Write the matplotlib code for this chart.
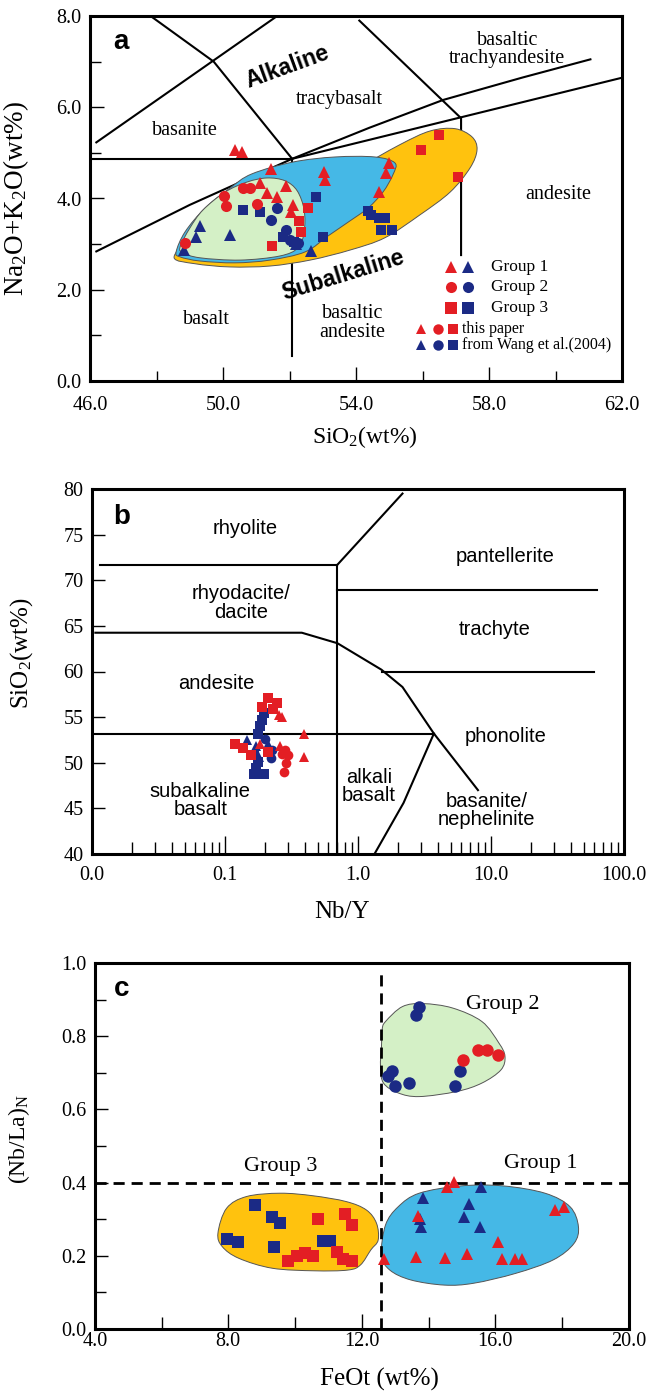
import numpy as np
import matplotlib
matplotlib.use("Agg")
import matplotlib.pyplot as plt
from matplotlib.path import Path
from matplotlib.patches import PathPatch
from matplotlib.ticker import FixedLocator, NullFormatter

plt.rcParams["font.family"] = ["Liberation Serif", "DejaVu Serif"]
plt.rcParams["mathtext.fontset"] = "custom"
plt.rcParams["mathtext.rm"] = "Liberation Serif"
plt.rcParams["mathtext.it"] = "Liberation Serif:italic"

RED = "#e31e24"
BLUE = "#1b2a85"
GREEN_FILL = "#d4f0c6"
BLUE_FILL = "#45b8e6"
YELLOW_FILL = "#ffc20e"
SANS = "Liberation Sans"

# ---------------- panel a: TAS (SiO2 vs Na2O+K2O) ----------------
a_r_tri_x = [50.35, 50.58, 51.45, 51.10, 51.33, 51.63, 51.90, 52.10, 52.05, 53.03, 53.08, 55.00, 54.90, 54.70]
a_r_tri_y = [5.07, 5.01, 4.65, 4.35, 4.13, 4.04, 4.28, 3.85, 3.70, 4.58, 4.40, 4.77, 4.56, 4.15]
a_b_tri_x = [49.30, 49.20, 48.82, 50.22, 52.65, 52.20]
a_b_tri_y = [3.40, 3.16, 2.87, 3.20, 2.84, 3.00]
a_r_cir_x = [50.03, 50.08, 50.60, 50.80, 51.03, 48.87]
a_r_cir_y = [4.06, 3.84, 4.23, 4.23, 3.88, 3.02]
a_b_cir_x = [51.62, 51.45, 51.88, 52.00, 52.25]
a_b_cir_y = [3.79, 3.53, 3.30, 3.09, 3.02]
a_r_sq_x = [56.50, 55.95, 57.08, 52.57, 52.30, 52.35, 51.47]
a_r_sq_y = [5.40, 5.07, 4.47, 3.80, 3.50, 3.27, 2.95]
a_b_sq_x = [50.60, 51.12, 52.80, 53.02, 54.35, 54.45, 54.70, 54.87, 54.75, 55.07, 51.80, 52.15]
a_b_sq_y = [3.75, 3.70, 4.04, 3.15, 3.73, 3.64, 3.57, 3.57, 3.32, 3.32, 3.15, 3.05]

# classification boundaries (SiO2, alkali)
a_lines = [
    ([46.19, 51.59], [5.23, 7.98]),
    ([47.86, 49.72, 52.08], [7.98, 7.00, 4.87]),
    ([46.0, 52.08], [4.87, 4.87]),
    ([52.08, 52.08], [4.87, 0.55]),
    ([54.10, 57.16, 57.16], [7.90, 5.76, 2.76]),
    ([46.19, 49.0, 52.08, 54.4, 56.62, 59.0, 61.05], [2.84, 3.86, 4.87, 5.55, 6.16, 6.65, 7.05]),
    ([52.08, 61.96], [4.87, 6.64]),
]

# field outlines
a_yellow_x = [48.53, 49.01, 50.21, 52.02, 53.82, 55.32, 56.23, 56.98, 57.49, 57.64, 57.43, 56.83, 55.92, 54.87, 53.82, 52.62, 51.41, 50.21, 49.16]
a_yellow_y = [2.70, 3.09, 3.49, 3.97, 4.58, 5.18, 5.48, 5.53, 5.35, 5.07, 4.67, 4.14, 3.64, 3.14, 2.87, 2.65, 2.52, 2.50, 2.57]
a_blue_x = [48.59, 48.86, 49.46, 50.21, 50.87, 52.11, 53.37, 54.57, 55.17, 55.11, 54.81, 54.36, 53.82, 53.16, 52.47, 51.41, 50.36, 49.31, 48.71]
a_blue_y = [2.83, 3.27, 3.79, 4.23, 4.54, 4.80, 4.91, 4.91, 4.78, 4.52, 4.14, 3.79, 3.51, 3.18, 2.83, 2.65, 2.59, 2.63, 2.72]
a_green_x = [48.71, 49.01, 49.40, 50.06, 50.72, 51.32, 51.86, 52.23, 52.44, 52.44, 52.26, 51.71, 50.51, 49.31, 48.80]
a_green_y = [2.94, 3.36, 3.75, 4.14, 4.36, 4.45, 4.39, 4.17, 3.75, 3.27, 2.92, 2.74, 2.65, 2.70, 2.81]

# ---------------- panel b: Nb/Y vs SiO2 ----------------
b_r_tri_x = [0.254, 0.27, 0.39, 0.39, 0.183, 0.26]
b_r_tri_y = [55.2, 55.0, 53.2, 50.6, 52.1, 51.8]
b_r_cir_x = [0.283, 0.30, 0.29, 0.28, 0.27]
b_r_cir_y = [51.4, 50.8, 50.0, 49.0, 51.0]
b_r_sq_x = [0.19, 0.212, 0.245, 0.119, 0.137, 0.158, 0.21, 0.23]
b_r_sq_y = [56.1, 57.1, 56.5, 52.1, 51.6, 50.8, 51.2, 55.9]
b_b_sq_x = [0.197, 0.19, 0.183, 0.177, 0.165, 0.177, 0.171, 0.197, 0.165]
b_b_sq_y = [55.4, 54.7, 54.0, 53.2, 50.8, 50.1, 49.4, 48.8, 48.8]
b_b_tri_x = [0.147, 0.171, 0.212, 0.18]
b_b_tri_y = [52.5, 51.8, 52.1, 50.6]
b_b_cir_x = [0.227, 0.20, 0.22]
b_b_cir_y = [51.4, 52.6, 50.5]

b_lines = [
    ([0.70, 2.16], [71.7, 79.5]),
    ([0.0115, 0.70], [71.7, 71.7]),
    ([0.70, 0.70], [71.7, 40.0]),
    ([0.70, 63.0], [68.9, 68.9]),
    ([0.0106, 0.378, 0.70, 1.50, 2.16, 3.72, 7.98], [64.25, 64.25, 63.1, 60.2, 58.3, 53.2, 47.0]),
    ([1.52, 60.0], [60.0, 60.0]),
    ([0.0100, 3.72], [53.15, 53.15]),
    ([3.72, 2.2, 1.33], [53.2, 45.6, 40.0]),
]
b_labels = [
    (0.142, 75.7, "rhyolite"), (12.8, 72.6, "pantellerite"),
    (0.132, 67.5, "rhyodacite/\ndacite"), (10.7, 64.6, "trachyte"),
    (0.0855, 58.7, "andesite"), (12.8, 52.9, "phonolite"),
    (0.0653, 45.9, "subalkaline\nbasalt"), (1.21, 47.4, "alkali\nbasalt"),
    (9.25, 44.8, "basanite/\nnephelinite"),
]

# ---------------- panel c: FeOt vs (Nb/La)N ----------------
c_r_tri_x = [12.66, 13.62, 13.68, 14.50, 14.55, 14.75, 15.14, 16.08, 16.20, 16.60, 16.80, 17.80, 18.05]
c_r_tri_y = [0.190, 0.197, 0.310, 0.193, 0.389, 0.403, 0.206, 0.237, 0.190, 0.190, 0.190, 0.325, 0.334]
c_b_tri_x = [13.84, 13.74, 13.76, 15.05, 15.22, 15.58, 15.53]
c_b_tri_y = [0.357, 0.300, 0.279, 0.306, 0.342, 0.387, 0.279]
c_r_cir_x = [15.04, 15.48, 15.75, 16.08]
c_r_cir_y = [0.736, 0.761, 0.761, 0.749]
c_b_cir_x = [13.72, 13.63, 12.90, 12.78, 13.00, 13.40, 14.79, 14.95]
c_b_cir_y = [0.881, 0.859, 0.706, 0.690, 0.663, 0.672, 0.663, 0.704]
c_r_sq_x = [10.70, 11.50, 11.70, 9.80, 10.05, 10.30, 10.55, 11.25, 11.45, 11.70]
c_r_sq_y = [0.300, 0.313, 0.285, 0.185, 0.200, 0.207, 0.200, 0.210, 0.190, 0.185]
c_b_sq_x = [8.80, 9.30, 9.55, 7.95, 8.30, 9.37, 10.83, 11.06]
c_b_sq_y = [0.340, 0.305, 0.289, 0.245, 0.239, 0.225, 0.240, 0.240]

c_green_x = [12.71, 13.22, 13.84, 14.72, 15.60, 16.11, 16.29, 16.17, 15.60, 14.85, 13.72, 13.09, 12.65, 12.56, 12.59, 12.61]
c_green_y = [0.840, 0.881, 0.889, 0.877, 0.840, 0.781, 0.745, 0.708, 0.672, 0.649, 0.635, 0.645, 0.672, 0.717, 0.772, 0.818]
c_blue_x = [13.09, 13.72, 14.97, 16.23, 17.49, 18.24, 18.49, 18.36, 17.74, 16.61, 15.35, 14.47, 13.47, 12.84, 12.59, 12.71]
c_blue_y = [0.334, 0.371, 0.391, 0.391, 0.371, 0.334, 0.280, 0.234, 0.189, 0.152, 0.125, 0.120, 0.134, 0.161, 0.202, 0.284]
c_yellow_x = [7.69, 7.95, 8.55, 9.55, 10.54, 11.54, 12.14, 12.44, 12.49, 12.27, 11.96, 11.58, 10.58, 9.32, 8.32, 7.82]
c_yellow_y = [0.262, 0.330, 0.362, 0.371, 0.364, 0.348, 0.325, 0.289, 0.243, 0.216, 0.175, 0.161, 0.159, 0.166, 0.193, 0.225]


def smooth_outline(xs, ys):
    # closed Catmull-Rom outline turned into cubic bezier segments
    pts = np.column_stack([xs, ys])
    n = len(pts)
    verts = [pts[0]]
    codes = [Path.MOVETO]
    for i in range(n):
        p0, p1, p2, p3 = pts[i - 1], pts[i], pts[(i + 1) % n], pts[(i + 2) % n]
        verts += [p1 + (p2 - p0) / 6.0, p2 - (p3 - p1) / 6.0, p2]
        codes += [Path.CURVE4] * 3
    verts.append(pts[0])
    codes.append(Path.CLOSEPOLY)
    return Path(verts, codes)


def add_field(ax, xs, ys, color):
    ax.add_patch(PathPatch(smooth_outline(xs, ys), facecolor=color,
                           edgecolor="#555555", lw=0.7, zorder=2))


def pts(ax, x, y, marker, color, ms):
    ax.plot(x, y, ls="none", marker=marker, color=color, ms=ms, mew=0, zorder=4)


def style_axes(ax):
    for s in ax.spines.values():
        s.set_linewidth(2.2)
    ax.tick_params(which="both", direction="in", labelsize=14.5, width=1.0)


fig = plt.figure(figsize=(6.54, 13.96), dpi=100)

# ---------------- panel a ----------------
ax = fig.add_axes([90 / 654, 1 - 381 / 1396, 532 / 654, 365 / 1396])
style_axes(ax)
ax.set_xlim(46, 62)
ax.set_ylim(0, 8)
ax.xaxis.set_major_locator(FixedLocator([46, 50, 54, 58, 62]))
ax.xaxis.set_minor_locator(FixedLocator([48, 52, 56, 60]))
ax.yaxis.set_major_locator(FixedLocator([0, 2, 4, 6, 8]))
ax.yaxis.set_minor_locator(FixedLocator([1, 3, 5, 7]))
ax.xaxis.set_major_formatter(lambda v, p: f"{v:.1f}")
ax.yaxis.set_major_formatter(lambda v, p: f"{v:.1f}")
ax.tick_params(axis="x", which="major", length=10, pad=11)
ax.tick_params(axis="x", which="minor", length=7)
ax.tick_params(axis="y", which="major", length=10, pad=6)
ax.tick_params(axis="y", which="minor", length=8)

for lx, ly in a_lines:
    ax.plot(lx, ly, color="black", lw=1.5, zorder=1)
add_field(ax, a_yellow_x, a_yellow_y, YELLOW_FILL)
add_field(ax, a_blue_x, a_blue_y, BLUE_FILL)
add_field(ax, a_green_x, a_green_y, GREEN_FILL)

pts(ax, a_b_sq_x, a_b_sq_y, "s", BLUE, 7.5)
pts(ax, a_b_cir_x, a_b_cir_y, "o", BLUE, 8)
pts(ax, a_b_tri_x, a_b_tri_y, "^", BLUE, 8.5)
pts(ax, a_r_sq_x, a_r_sq_y, "s", RED, 7.5)
pts(ax, a_r_cir_x, a_r_cir_y, "o", RED, 8)
pts(ax, a_r_tri_x, a_r_tri_y, "^", RED, 8.5)

ax.text(0.059, 0.93, "a", transform=ax.transAxes, fontsize=20, fontweight="bold",
        family=SANS, ha="center", va="center")
ax.text(51.93, 6.89, "Alkaline", fontsize=16.5, fontweight="bold", family=SANS,
        rotation=20, ha="center", va="center")
ax.text(53.6, 2.32, "Subalkaline", fontsize=16.5, fontweight="bold", family=SANS,
        rotation=17, ha="center", va="center", zorder=5)
for tx, ty, s in [(53.5, 6.16, "tracybasalt"), (58.55, 7.26, "basaltic\ntrachyandesite"),
                  (48.84, 5.50, "basanite"), (60.07, 4.08, "andesite"),
                  (49.5, 1.34, "basalt"), (53.9, 1.27, "basaltic\nandesite")]:
    ax.text(tx, ty, s, fontsize=14.5, ha="center", va="center", linespacing=0.95)

# legend rows
leg_rows = [(0.313, "^", "Group 1"), (0.258, "o", "Group 2"), (0.199, "s", "Group 3")]
for yy, mk, lab in leg_rows:
    ax.plot([0.679], [yy], marker=mk, color=RED, ms=8, mew=0, transform=ax.transAxes, ls="none")
    ax.plot([0.711], [yy], marker=mk, color=BLUE, ms=8, mew=0, transform=ax.transAxes, ls="none")
    ax.text(0.753, yy, lab, transform=ax.transAxes, fontsize=12.5, va="center")
for yy, col, lab in [(0.142, RED, "this paper"), (0.099, BLUE, "from Wang et al.(2004)")]:
    for xx, mk in zip([0.623, 0.654, 0.682], ["^", "o", "s"]):
        ax.plot([xx], [yy], marker=mk, color=col, ms=7.5, mew=0, transform=ax.transAxes, ls="none")
    ax.text(0.700, yy, lab, transform=ax.transAxes, fontsize=11.5, va="center")

ax.set_xlabel("SiO$_2$(wt%)", fontsize=17)
ax.set_ylabel("Na$_2$O+K$_2$O(wt%)", fontsize=19.5)
ax.xaxis.set_label_coords(0.517, -0.118)
ax.yaxis.set_label_coords(-0.11, 0.5)

# ---------------- panel b ----------------
bx = fig.add_axes([92 / 654, 1 - 854 / 1396, 532 / 654, 365 / 1396])
style_axes(bx)
bx.set_xscale("log")
bx.set_xlim(0.01, 100)
bx.set_ylim(40, 80)
bx.xaxis.set_major_locator(FixedLocator([0.01, 0.1, 1, 10, 100]))
bx.xaxis.set_minor_locator(FixedLocator([m * 10.0 ** e for e in range(-2, 2) for m in range(2, 10)]))
bx.xaxis.set_minor_formatter(NullFormatter())
bx.xaxis.set_major_formatter(lambda v, p: f"{v:.1f}")
bx.yaxis.set_major_locator(FixedLocator([40, 45, 50, 55, 60, 65, 70, 75, 80]))
bx.tick_params(axis="x", which="major", length=13, pad=9)
bx.tick_params(axis="x", which="minor", length=9)
bx.tick_params(axis="y", which="major", length=9, pad=6)

for lx, ly in b_lines:
    bx.plot(lx, ly, color="black", lw=1.5, zorder=1)
for tx, ty, s in b_labels:
    bx.text(tx, ty, s, family=SANS, fontsize=14.5, ha="center", va="center", linespacing=0.95)
bx.text(0.056, 0.924, "b", transform=bx.transAxes, fontsize=20, fontweight="bold",
        family=SANS, ha="center", va="center")

pts(bx, b_b_sq_x, b_b_sq_y, "s", BLUE, 6.5)
pts(bx, b_b_cir_x, b_b_cir_y, "o", BLUE, 7)
pts(bx, b_b_tri_x, b_b_tri_y, "^", BLUE, 7.5)
pts(bx, b_r_sq_x, b_r_sq_y, "s", RED, 6.5)
pts(bx, b_r_cir_x, b_r_cir_y, "o", RED, 7)
pts(bx, b_r_tri_x, b_r_tri_y, "^", RED, 7.5)

bx.set_xlabel("Nb/Y", fontsize=18)
bx.set_ylabel("SiO$_2$(wt%)", fontsize=18)
bx.xaxis.set_label_coords(0.47, -0.13)
bx.yaxis.set_label_coords(-0.108, 0.55)

# ---------------- panel c ----------------
cx = fig.add_axes([94.8 / 654, 1 - 1329 / 1396, 534 / 654, 366 / 1396])
style_axes(cx)
cx.set_xlim(4, 20)
cx.set_ylim(0, 1)
cx.xaxis.set_major_locator(FixedLocator([4, 8, 12, 16, 20]))
cx.xaxis.set_minor_locator(FixedLocator([6, 10, 14, 18]))
cx.yaxis.set_major_locator(FixedLocator([0, 0.2, 0.4, 0.6, 0.8, 1.0]))
cx.yaxis.set_minor_locator(FixedLocator([0.1, 0.3, 0.5, 0.7, 0.9]))
cx.xaxis.set_major_formatter(lambda v, p: f"{v:.1f}")
cx.yaxis.set_major_formatter(lambda v, p: f"{v:.1f}")
cx.tick_params(axis="x", which="major", length=11, pad=2)
cx.tick_params(axis="x", which="minor", length=9)
cx.tick_params(axis="y", which="major", length=9, pad=6)
cx.tick_params(axis="y", which="minor", length=8)

add_field(cx, c_green_x, c_green_y, GREEN_FILL)
add_field(cx, c_blue_x, c_blue_y, BLUE_FILL)
add_field(cx, c_yellow_x, c_yellow_y, YELLOW_FILL)
cx.axhline(0.4, color="black", lw=2, ls=(0, (4, 2.5)), zorder=3)
cx.plot([12.59, 12.59], [0, 0.98], color="black", lw=2, ls=(0, (4, 2.5)), zorder=3)

pts(cx, c_b_sq_x, c_b_sq_y, "s", BLUE, 8)
pts(cx, c_r_sq_x, c_r_sq_y, "s", RED, 8)
pts(cx, c_b_cir_x, c_b_cir_y, "o", BLUE, 9)
pts(cx, c_r_cir_x, c_r_cir_y, "o", RED, 9)
pts(cx, c_b_tri_x, c_b_tri_y, "^", BLUE, 9)
pts(cx, c_r_tri_x, c_r_tri_y, "^", RED, 9)

cx.text(0.05, 0.93, "c", transform=cx.transAxes, fontsize=20, fontweight="bold",
        family=SANS, ha="center", va="center")
for tx, ty, s in [(16.23, 0.886, "Group 2"), (9.58, 0.444, "Group 3"), (17.36, 0.453, "Group 1")]:
    cx.text(tx, ty, s, fontsize=16, ha="center", va="center")

cx.set_xlabel("FeOt (wt%)", fontsize=18)
cx.set_ylabel("(Nb/La)$_\\mathrm{N}$", fontsize=17)
cx.xaxis.set_label_coords(0.533, -0.105)
cx.yaxis.set_label_coords(-0.118, 0.52)

fig.savefig("out.png", dpi=100)
